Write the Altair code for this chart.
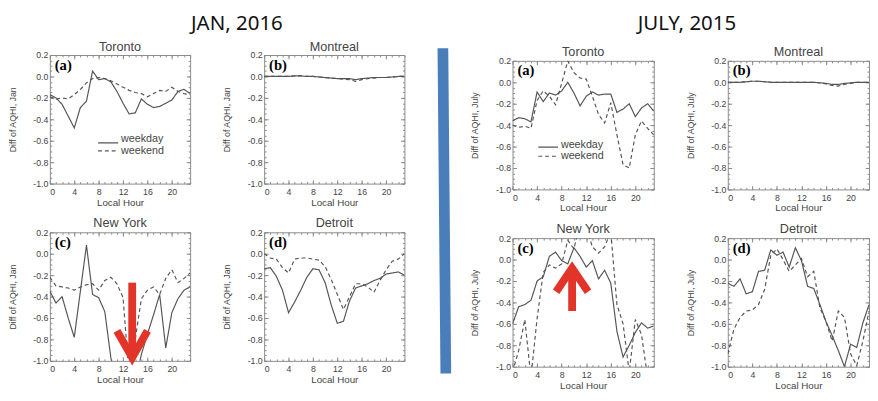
import altair as alt
import pandas as pd

HOURS = list(range(24))
SERIES = ["weekday", "weekend"]
X_MAJOR = [0, 4, 8, 12, 16, 20]
X_MINOR = [0, 1, 2, 3, 4, 5, 6, 7, 8, 9, 10, 11, 12, 13, 14, 15, 16, 17, 18, 19, 20, 21, 22, 23]
Y_MAJOR = [-1.0, -0.8, -0.6, -0.4, -0.2, 0.0, 0.2]
Y_MINOR = [-1.0, -0.95, -0.9, -0.85, -0.8, -0.75, -0.7, -0.65, -0.6, -0.55, -0.5, -0.45, -0.4,
           -0.35, -0.3, -0.25, -0.2, -0.15, -0.1, -0.05, 0.0, 0.05, 0.1, 0.15, 0.2]

MONTH_HEADERS = ["JAN, 2016", "JULY, 2015"]
Y_TITLES = ["Diff of AQHI, Jan", "Diff of AQHI, July"]
CITIES = ["Toronto", "Montreal", "New York", "Detroit"]
TAGS = ["(a)", "(b)", "(c)", "(d)"]

# ---- January 2016 ----
jan_tor_wd = [-0.17, -0.20, -0.26, -0.37, -0.48, -0.29, -0.23, 0.05, -0.03, -0.02, -0.05, -0.14,
              -0.25, -0.35, -0.34, -0.21, -0.26, -0.29, -0.28, -0.25, -0.22, -0.14, -0.12, -0.16]
jan_tor_we = [-0.19, -0.21, -0.20, -0.21, -0.17, -0.12, -0.06, -0.02, -0.01, -0.02, -0.04, -0.07,
              -0.10, -0.13, -0.15, -0.16, -0.19, -0.16, -0.13, -0.14, -0.10, -0.14, -0.16, -0.17]
jan_mtl_wd = [0.0, 0.0, 0.0, 0.0, 0.0, 0.005, 0.005, 0.0, 0.0, -0.005, -0.01, -0.015,
              -0.02, -0.02, -0.02, -0.03, -0.02, -0.015, -0.01, -0.01, -0.01, -0.005, 0.0, 0.0]
jan_mtl_we = [0.0, 0.0, 0.0, 0.0, 0.0, 0.005, 0.005, 0.0, 0.0, -0.005, -0.01, -0.015,
              -0.02, -0.025, -0.03, -0.045, -0.03, -0.02, -0.015, -0.01, -0.01, -0.005, 0.0, 0.0]
jan_ny_wd = [-0.35, -0.46, -0.40, -0.60, -0.78, -0.35, 0.08, -0.38, -0.41, -0.54, -0.97, -1.3,
             -1.35, -1.35, -1.2, -0.94, -0.75, -0.57, -0.38, -0.88, -0.55, -0.42, -0.34, -0.31]
jan_ny_we = [-0.22, -0.30, -0.31, -0.32, -0.34, -0.31, -0.29, -0.28, -0.34, -0.25, -0.22, -0.28,
             -0.41, -1.15, -0.80, -0.42, -0.34, -0.31, -0.38, -0.23, -0.15, -0.27, -0.23, -0.18]
jan_det_wd = [-0.14, -0.13, -0.21, -0.34, -0.55, -0.45, -0.34, -0.22, -0.14, -0.15, -0.27, -0.48,
              -0.65, -0.63, -0.44, -0.32, -0.30, -0.28, -0.25, -0.23, -0.19, -0.18, -0.17, -0.20]
jan_det_we = [0.0, -0.04, -0.05, -0.13, -0.18, -0.05, -0.04, -0.04, -0.05, -0.06, -0.12, -0.24,
              -0.38, -0.52, -0.40, -0.28, -0.28, -0.31, -0.36, -0.25, -0.15, -0.07, -0.05, 0.0]

# ---- July 2015 ----
jul_tor_wd = [-0.36, -0.33, -0.34, -0.37, -0.09, -0.18, -0.10, -0.12, -0.08, 0.0, -0.10, -0.22,
              -0.13, -0.09, -0.12, -0.11, -0.11, -0.28, -0.25, -0.20, -0.32, -0.24, -0.20, -0.27]
jul_tor_we = [-0.40, -0.42, -0.41, -0.43, -0.17, -0.08, -0.13, -0.21, -0.01, 0.20, 0.09, 0.04,
              0.03, -0.13, -0.30, -0.38, -0.19, -0.49, -0.77, -0.80, -0.49, -0.36, -0.43, -0.49]
jul_mtl_wd = [0.0, 0.0, 0.0, 0.005, 0.01, 0.01, 0.005, 0.0, 0.0, 0.0, 0.0, 0.0,
              0.0, 0.0, 0.0, -0.005, -0.01, -0.02, -0.02, -0.01, -0.005, 0.0, 0.0, 0.0]
jul_mtl_we = [0.0, 0.0, 0.0, 0.005, 0.01, 0.01, 0.005, 0.0, 0.0, 0.0, 0.0, 0.0,
              0.0, 0.0, 0.0, -0.005, -0.015, -0.03, -0.035, -0.02, -0.01, 0.0, 0.0, 0.0]
jul_ny_wd = [-0.60, -0.44, -0.42, -0.38, -0.20, -0.16, 0.03, 0.07, -0.01, -0.04, 0.11, 0.03,
             -0.07, -0.01, -0.18, -0.10, -0.22, -0.67, -0.91, -0.80, -0.68, -0.59, -0.64, -0.62]
jul_ny_we = [-1.05, -0.85, -0.56, -1.10, -0.55, -0.12, -0.05, -0.08, -0.04, 0.18, 0.10, 0.35,
             0.30, 0.12, 0.06, 0.12, 0.26, -0.42, -0.60, -1.05, -0.56, -0.70, -1.10, -1.10]
jul_det_wd = [-0.22, -0.25, -0.18, -0.32, -0.30, -0.11, -0.10, 0.09, 0.04, 0.07, -0.07, 0.11,
              -0.01, -0.25, -0.27, -0.42, -0.58, -0.71, -0.85, -1.0, -0.79, -0.82, -0.59, -0.42]
jul_det_we = [-0.88, -0.65, -0.54, -0.48, -0.47, -0.42, -0.28, 0.04, 0.10, 0.0, -0.11, -0.05,
              0.01, -0.16, -0.11, -0.45, -0.58, -0.76, -0.48, -0.54, -0.88, -0.99, -0.76, -0.48]

# legend sample positions (data coords)
LEG_JAN_X = [7.9, 11.2]
LEG_JAN_LINE_Y = [-0.62, -0.695]
LEG_JAN_TEXT_Y = [-0.58, -0.695]
LEG_JUL_X = [4.2, 7.4]
LEG_JUL_LINE_Y = [-0.605, -0.69]
LEG_JUL_TEXT_Y = [-0.585, -0.69]

# red arrows (data coords)
ARROW_PART = ["shaft", "shaft", "head", "head", "head"]
ARROW_JAN_X = [13.5, 13.5, 11.0, 13.5, 16.0]
ARROW_JAN_Y = [-0.27, -0.95, -0.72, -0.97, -0.72]
ARROW_JUL_X = [9.7, 9.7, 7.1, 9.7, 12.3]
ARROW_JUL_Y = [-0.48, -0.07, -0.30, -0.08, -0.30]

FONT = "Liberation Sans"
TXT = "#444444"
LINE = "#555555"
FRAME = "#8a8a8a"
RED = "#e3342a"
BLUE = "#4a7ebb"
H = 132
MINUS_FIX = "replace(format(datum.value, '.1f'), '\u2212', '-')"


def panel(wd, we, city, tag, ytitle, W, title_y, legend=None, arrow=None, divider=False, header=None):
    df = pd.DataFrame({"hour": HOURS + HOURS, "value": wd + we,
                       "series": ["weekday"] * 24 + ["weekend"] * 24})
    xs = alt.Scale(domain=[0, 23], nice=False, zero=False)
    ys = alt.Scale(domain=[-1.0, 0.2], nice=False, zero=False)
    dash = alt.StrokeDash("series:N", scale=alt.Scale(domain=SERIES, range=[[1, 0], [4, 3]]), legend=None)
    base = alt.Chart(df)
    lines = base.mark_line(clip=True, color=LINE, strokeWidth=1.2).encode(
        x=alt.X("hour:Q", scale=xs, axis=alt.Axis(
            orient="bottom", values=X_MAJOR, ticks=False, domain=False, grid=False,
            labelFontSize=9, labelPadding=4, title="Local Hour", titleFontSize=10, titlePadding=1)),
        y=alt.Y("value:Q", scale=ys, axis=alt.Axis(
            orient="left", values=Y_MAJOR, ticks=False, domain=False, grid=False,
            labelFontSize=9, labelPadding=2, labelExpr=MINUS_FIX,
            title=ytitle, titleFontSize=9, titlePadding=16)),
        strokeDash=dash,
    )

    def tick_layer(xv, yv, size, xo, yo, dom):
        return base.mark_line(opacity=0).encode(
            x=alt.X("hour:Q", scale=xs, axis=alt.Axis(
                orient=xo, offset=-H, values=xv, tickSize=size, labels=False, title=None,
                grid=False, domain=dom, domainColor=FRAME, tickColor=FRAME, tickWidth=1)),
            y=alt.Y("value:Q", scale=ys, axis=alt.Axis(
                orient=yo, offset=-W, values=yv, tickSize=size, labels=False, title=None,
                grid=False, domain=dom, domainColor=FRAME, tickColor=FRAME, tickWidth=1)),
            detail="series:N",
        )

    layers = [
        tick_layer(X_MAJOR, Y_MAJOR, 4, "top", "right", True),
        tick_layer(X_MAJOR, Y_MAJOR, 4, "bottom", "left", True),
        tick_layer(X_MINOR, Y_MINOR, 2, "top", "right", False),
        tick_layer(X_MINOR, Y_MINOR, 2, "bottom", "left", False),
        lines,
    ]
    if legend is not None:
        lx, lly, lty = legend
        ldf = pd.DataFrame({"series": SERIES, "x0": [lx[0]] * 2, "x1": [lx[1]] * 2,
                            "ly": lly, "ty": lty})
        layers.append(alt.Chart(ldf).mark_rule(color=LINE, strokeWidth=1.2).encode(
            x=alt.X("x0:Q", scale=xs, axis=None), x2="x1:Q",
            y=alt.Y("ly:Q", scale=ys, axis=None), strokeDash=dash))
        layers.append(alt.Chart(ldf).mark_text(align="left", baseline="middle", dx=3, fontSize=11,
                                               font=FONT, color=TXT).encode(
            x=alt.X("x1:Q", scale=xs, axis=None), y=alt.Y("ty:Q", scale=ys, axis=None), text="series:N"))
    # panel letter
    layers.append(alt.Chart(pd.DataFrame({"tag": [tag]})).mark_text(
        align="left", baseline="top", font="Liberation Serif", fontWeight="bold", fontSize=15,
        color="black").encode(x=alt.value(5), y=alt.value(3), text="tag:N"))
    # city title above the frame
    layers.append(alt.Chart(pd.DataFrame({"city": [city]})).mark_text(
        align="center", baseline="alphabetic", font=FONT, fontSize=13, color=TXT).encode(
        x=alt.value(W / 2), y=alt.value(title_y), text="city:N"))
    if header is not None:
        htext, hx, hy = header
        layers.append(alt.Chart(pd.DataFrame({"h": [htext]})).mark_text(
            align="center", baseline="alphabetic", font="Noto Sans", fontSize=21, color="#111111").encode(
            x=alt.value(hx), y=alt.value(hy), text="h:N"))
    if arrow is not None:
        axv, ayv = arrow
        adf = pd.DataFrame({"x": axv, "y": ayv, "part": ARROW_PART, "i": list(range(len(axv)))})
        layers.append(alt.Chart(adf).mark_line(color=RED, strokeWidth=8, strokeJoin="miter",
                                               strokeCap="butt").encode(
            x=alt.X("x:Q", scale=xs, axis=None), y=alt.Y("y:Q", scale=ys, axis=None),
            detail="part:N", order="i:Q"))
    if divider:
        layers.append(alt.Chart(pd.DataFrame({"k": [0]})).mark_rule(
            color=BLUE, strokeWidth=11, strokeCap="butt").encode(
            x=alt.value(-71.5), x2=alt.value(-68.5), y=alt.value(-13), y2=alt.value(321)))
    return alt.layer(*layers).resolve_axis(x="independent", y="independent").properties(
        width=W, height=H)


WJ, WL = 144, 145
jan = [panel(jan_tor_wd, jan_tor_we, CITIES[0], TAGS[0], Y_TITLES[0], WJ, -4.5,
             legend=(LEG_JAN_X, LEG_JAN_LINE_Y, LEG_JAN_TEXT_Y), header=(MONTH_HEADERS[0], 192, -26)),
       panel(jan_mtl_wd, jan_mtl_we, CITIES[1], TAGS[1], Y_TITLES[0], WJ, -4.5),
       panel(jan_ny_wd, jan_ny_we, CITIES[2], TAGS[2], Y_TITLES[0], WJ, -5,
             arrow=(ARROW_JAN_X, ARROW_JAN_Y)),
       panel(jan_det_wd, jan_det_we, CITIES[3], TAGS[3], Y_TITLES[0], WJ, -5)]
jul = [panel(jul_tor_wd, jul_tor_we, CITIES[0], TAGS[0], Y_TITLES[1], WL, -5,
             legend=(LEG_JUL_X, LEG_JUL_LINE_Y, LEG_JUL_TEXT_Y), divider=True,
             header=(MONTH_HEADERS[1], 179, -32)),
       panel(jul_mtl_wd, jul_mtl_we, CITIES[1], TAGS[1], Y_TITLES[1], WL, -5),
       panel(jul_ny_wd, jul_ny_we, CITIES[2], TAGS[2], Y_TITLES[1], WL, -5,
             arrow=(ARROW_JUL_X, ARROW_JUL_Y)),
       panel(jul_det_wd, jul_det_we, CITIES[3], TAGS[3], Y_TITLES[1], WL, -5)]

GRID_SPACING = {"row": 50, "column": 76}


def spacer():
    return alt.Chart(pd.DataFrame({"s": [0]})).mark_rule(strokeOpacity=0, strokeWidth=0).encode(
        x=alt.value(0), x2=alt.value(1), y=alt.value(0)).properties(width=1, height=1)


jan_block = alt.vconcat(spacer(), alt.concat(*jan, columns=2, spacing=GRID_SPACING, bounds="flush"),
                        spacing=0)
jul_block = alt.vconcat(spacer(), alt.concat(*jul, columns=2, spacing=GRID_SPACING, bounds="flush"),
                        spacing=0)

chart = alt.hconcat(jan_block, jul_block, spacing=33).configure_view(
    strokeWidth=0
).configure_axis(
    labelFont=FONT, titleFont=FONT, labelColor=TXT, titleColor=TXT, titleFontWeight="normal"
).properties(padding={"left": 0, "top": -1, "right": 0, "bottom": 0})

chart.save("out.html", embed_options={"renderer": "svg", "actions": False})
